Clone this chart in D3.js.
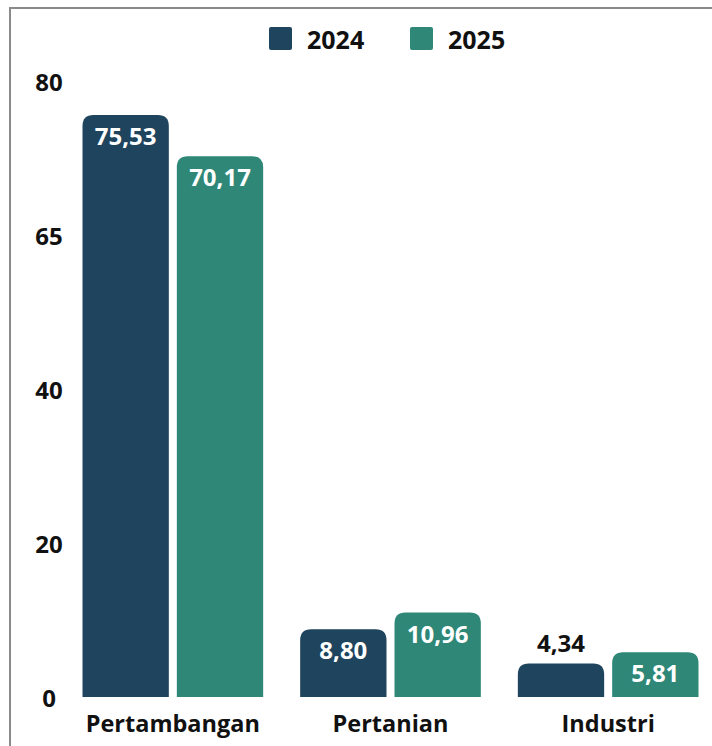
<!DOCTYPE html>
<html>
<head>
<meta charset="utf-8">
<script src="https://cdn.jsdelivr.net/npm/d3@7"></script>
<style>
  html, body { margin: 0; padding: 0; background: #fff; }
  svg { display: block; font-family: "Open Sans", "Noto Sans", sans-serif; font-weight: 700; }
</style>
</head>
<body>
<svg id="chart"></svg>
<script>
const width = 712;
const height = 746;

const categories = ["Pertambangan", "Pertanian", "Industri"];
const series = ["2024", "2025"];
const values2024 = [75.53, 8.80, 4.34];
const values2025 = [70.17, 10.96, 5.81];
const tickValues = [0, 20, 40, 60, 80];
const tickLabels = ["0", "20", "40", "65", "80"];

const colors = ["#1f445e", "#2e8777"];

const svg = d3.select("#chart")
  .attr("width", width)
  .attr("height", height);

// frame
svg.append("rect")
  .attr("x", 10)
  .attr("y", 8)
  .attr("width", width + 20)
  .attr("height", height + 20)
  .attr("fill", "none")
  .attr("stroke", "#8a8a8a")
  .attr("stroke-width", 2);

const y = d3.scaleLinear()
  .domain([0, 80])
  .range([697, 80.5]);

const x0 = d3.scaleBand()
  .domain(categories)
  .range([64, 717])
  .paddingInner(0.17)
  .paddingOuter(0.085);

const x1 = d3.scaleBand()
  .domain(series)
  .range([0, x0.bandwidth()])
  .paddingInner(0.085);

const color = d3.scaleOrdinal().domain(series).range(colors);

const data = categories.map((c, i) => ({
  category: c,
  bars: [
    { key: "2024", value: values2024[i] },
    { key: "2025", value: values2025[i] }
  ]
}));

// y axis labels (no line)
svg.append("g")
  .selectAll("text")
  .data(tickValues)
  .enter().append("text")
  .attr("x", 49)
  .attr("y", d => y(d))
  .attr("dy", "0.42em")
  .attr("text-anchor", "middle")
  .attr("font-size", 24)
  .attr("fill", "#111")
  .text((d, i) => tickLabels[i]);

// rounded-top bar path
function barPath(x, yTop, w, yBase, r) {
  r = Math.min(r, (yBase - yTop), w / 2);
  return "M" + x + "," + yBase +
    "V" + (yTop + r) +
    "Q" + x + "," + yTop + " " + (x + r) + "," + yTop +
    "H" + (x + w - r) +
    "Q" + (x + w) + "," + yTop + " " + (x + w) + "," + (yTop + r) +
    "V" + yBase + "Z";
}

const groups = svg.selectAll(".group")
  .data(data)
  .enter().append("g")
  .attr("class", "group")
  .attr("transform", d => "translate(" + x0(d.category) + ",0)");

const bars = groups.selectAll(".bar")
  .data(d => d.bars)
  .enter().append("g")
  .attr("class", "bar");

bars.append("path")
  .attr("d", d => barPath(x1(d.key), y(d.value), x1.bandwidth(), y(0), 11))
  .attr("fill", d => color(d.key));

const fmt = v => v.toFixed(2).replace(".", ",");

bars.append("text")
  .attr("x", d => x1(d.key) + x1.bandwidth() / 2)
  .attr("y", d => {
    const h = y(0) - y(d.value);
    return h > 40 ? y(d.value) + 30 : y(d.value) - 12;
  })
  .attr("text-anchor", "middle")
  .attr("font-size", 24)
  .attr("fill", d => (y(0) - y(d.value) > 40 ? "#fff" : "#111"))
  .text(d => fmt(d.value));

// category labels
svg.append("g")
  .selectAll("text")
  .data(categories)
  .enter().append("text")
  .attr("x", d => x0(d) + x0.bandwidth() / 2)
  .attr("y", 732)
  .attr("text-anchor", "middle")
  .attr("font-size", 23.5)
  .attr("fill", "#111")
  .text(d => d);

// legend
const legendX = [269, 410];
const legend = svg.append("g")
  .selectAll("g")
  .data(series)
  .enter().append("g")
  .attr("transform", (d, i) => "translate(" + legendX[i] + ",27)");

legend.append("rect")
  .attr("width", 23)
  .attr("height", 23)
  .attr("rx", 2)
  .attr("fill", d => color(d));

legend.append("text")
  .attr("x", 38)
  .attr("y", 21.5)
  .attr("font-size", 25)
  .attr("fill", "#111")
  .text(d => d);
</script>
</body>
</html>
